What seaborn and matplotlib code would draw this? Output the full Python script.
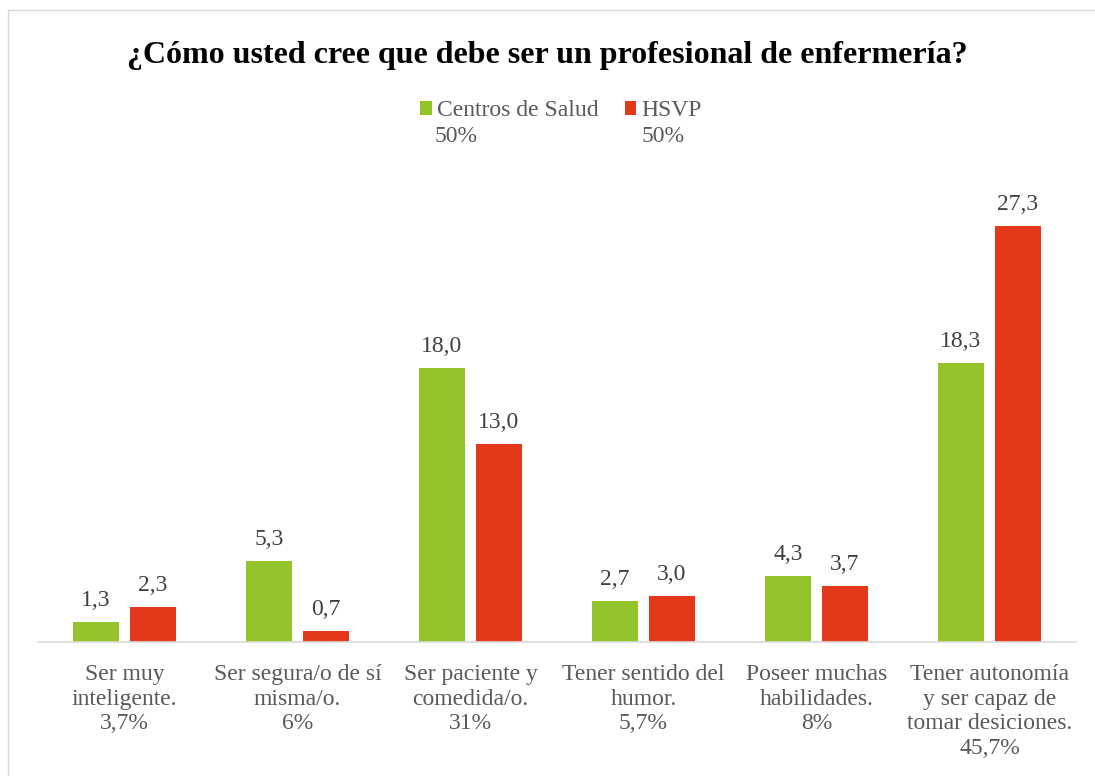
import matplotlib
matplotlib.use("Agg")
import matplotlib.pyplot as plt
import seaborn as sns
import pandas as pd
from matplotlib.patches import Rectangle

categories = ["Ser muy\ninteligente.\n3,7%",
              "Ser segura/o de sí\nmisma/o.\n6%",
              "Ser paciente y\ncomedida/o.\n31%",
              "Tener sentido del\nhumor.\n5,7%",
              "Poseer muchas\nhabilidades.\n8%",
              "Tener autonomía\ny ser capaz de\ntomar desiciones.\n45,7%"]
series_names = ["Centros de Salud", "HSVP"]
series_pct = ["50%", "50%"]
centros = [1.3, 5.3, 18.0, 2.7, 4.3, 18.3]
hsvp = [2.3, 0.7, 13.0, 3.0, 3.7, 27.3]
colors = ["#94C42A", "#E33819"]
title = "¿Cómo usted cree que debe ser un profesional de enfermería?"

df = pd.DataFrame({
    "cat": categories * 2,
    "serie": [series_names[0]] * len(categories) + [series_names[1]] * len(categories),
    "val": centros + hsvp,
})

sns.set_style("white")
plt.rcParams["font.family"] = ["Liberation Serif", "DejaVu Serif"]

fig = plt.figure(figsize=(10.95, 7.76), dpi=100)
ax = fig.add_axes([38 / 1095, 1 - 642 / 776, (1076 - 38) / 1095, (642 - 185) / 776])

sns.barplot(data=df, x="cat", y="val", hue="serie", order=categories,
            hue_order=series_names, palette=colors, saturation=1,
            width=0.66, gap=0.19, linewidth=0, ax=ax, legend=False, errorbar=None)

txtc = "#595959"
fs = 17
for cont in ax.containers:
    ax.bar_label(cont, labels=[f"{v:.1f}".replace(".", ",") for v in cont.datavalues],
                 padding=8, fontsize=fs, color="#404040")

ax.set_ylim(0, 30)
ax.set_xlim(-0.5, len(categories) - 0.5)
ax.set_xlabel("")
ax.set_ylabel("")
ax.set_yticks([])
ax.tick_params(axis="x", length=0, pad=16, labelsize=fs, labelcolor=txtc)
for s in ["top", "right", "left"]:
    ax.spines[s].set_visible(False)
ax.spines["bottom"].set_color("#D9D9D9")
ax.spines["bottom"].set_linewidth(1.2)
for lab in ax.get_xticklabels():
    lab.set_linespacing(1.22)

fig.text(0.5, 1 - 55 / 776, title, ha="center", va="center",
         fontsize=23, fontweight="bold", color="black")

handles = [Rectangle((0, 0), 1, 1, facecolor=c, edgecolor="none") for c in colors]
leg = fig.legend(handles, series_names, loc="center", ncol=2,
                 bbox_to_anchor=(561 / 1095, 1 - 111 / 776), frameon=False,
                 fontsize=fs, handlelength=0.5, handleheight=0.5,
                 handletextpad=0.2, columnspacing=1.1, labelcolor=txtc)

fig.text(435 / 1095, 1 - 137 / 776, series_pct[0], ha="left", va="center",
         fontsize=fs, color=txtc)
fig.text(642 / 1095, 1 - 137 / 776, series_pct[1], ha="left", va="center",
         fontsize=fs, color=txtc)

fig.patches.append(Rectangle((8 / 1095, -0.05), 1.1, 1 - 10 / 776 + 0.05,
                             transform=fig.transFigure, fill=False,
                             edgecolor="#D9D9D9", linewidth=1, figure=fig))

fig.savefig("out.png", dpi=100, facecolor="white")
